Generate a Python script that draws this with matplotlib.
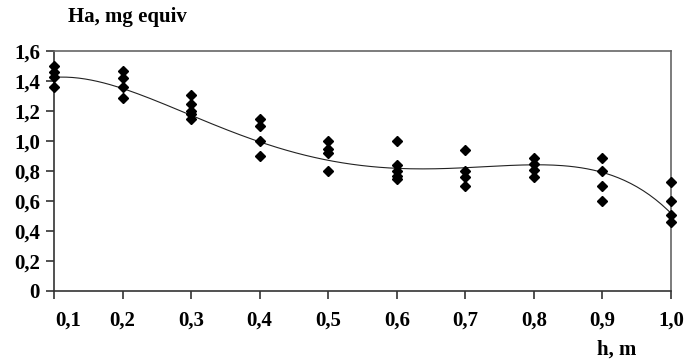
import numpy as np
import matplotlib
matplotlib.use("Agg")
from matplotlib import pyplot as plt
from matplotlib.transforms import ScaledTranslation

# measured points (depth h, m -> Ha, mg equiv)
h_vals = [0.1, 0.2, 0.3, 0.4, 0.5, 0.6, 0.7, 0.8, 0.9, 1.0]
ha_vals = [
    [1.50, 1.46, 1.43, 1.36],
    [1.47, 1.42, 1.36, 1.29],
    [1.31, 1.25, 1.20, 1.18, 1.15],
    [1.15, 1.10, 1.00, 0.90],
    [1.00, 0.95, 0.92, 0.80],
    [1.00, 0.84, 0.80, 0.77, 0.75],
    [0.94, 0.80, 0.76, 0.70],
    [0.89, 0.85, 0.81, 0.76],
    [0.89, 0.80, 0.70, 0.60],
    [0.73, 0.60, 0.51, 0.46],
]
# trend line
trend_h = [0.1, 0.15, 0.2, 0.3, 0.35, 0.4, 0.5, 0.6, 0.7, 0.75, 0.8, 0.9, 0.95, 1.0]
trend_ha = [1.424, 1.41, 1.35, 1.173, 1.073, 1.0, 0.869, 0.818, 0.822, 0.835, 0.84, 0.791, 0.695, 0.518]

x_labels = ['0,1', '0,2', '0,3', '0,4', '0,5', '0,6', '0,7', '0,8', '0,9', '1,0']
y_ticks = [0, 0.2, 0.4, 0.6, 0.8, 1.0, 1.2, 1.4, 1.6]
y_labels = ['0', '0,2', '0,4', '0,6', '0,8', '1,0', '1,2', '1,4', '1,6']

plt.rcParams['font.family'] = ['Liberation Serif', 'DejaVu Serif']

fig = plt.figure(figsize=(6.88, 3.6), dpi=100)
ax = fig.add_axes([54/688, 69/360, 617/688, 240/360])

xs = []
ys = []
for h, vals in zip(h_vals, ha_vals):
    for v in vals:
        xs.append(h)
        ys.append(v)

ax.plot(xs, ys, 'D', color='black', markersize=5, clip_on=False, zorder=3)

# smooth polynomial trend through the read values
coef = np.polyfit(trend_h, trend_ha, 6)
xx = np.linspace(0.1, 1.0, 200)
ax.plot(xx, np.polyval(coef, xx), color='#222222', linewidth=0.8)

ax.set_xlim(0.1, 1.0)
ax.set_ylim(0, 1.6)
ax.set_xticks(h_vals)
ax.set_xticklabels(x_labels, fontsize=15, fontweight='bold')
ax.set_yticks(y_ticks)
ax.set_yticklabels(y_labels, fontsize=15, fontweight='bold')
ax.tick_params(direction='out', length=6, width=1.2, color='#333333', pad=4)
ax.tick_params(axis='x', pad=8)

first = ax.get_xticklabels()[0]
first.set_transform(first.get_transform() + ScaledTranslation(14/100, 0, fig.dpi_scale_trans))

for side in ['left', 'bottom']:
    ax.spines[side].set_color('#333333')
    ax.spines[side].set_linewidth(1.2)
for side in ['top', 'right']:
    ax.spines[side].set_color('#666666')
    ax.spines[side].set_linewidth(1.2)

fig.text(68/688, 1 - 17/360, 'Ha, mg equiv', fontsize=15, fontweight='bold', va='center', ha='left')
fig.text(617/688, 1 - 350/360, 'h, m', fontsize=15, fontweight='bold', va='center', ha='center')

fig.savefig('out.png', dpi=100)
